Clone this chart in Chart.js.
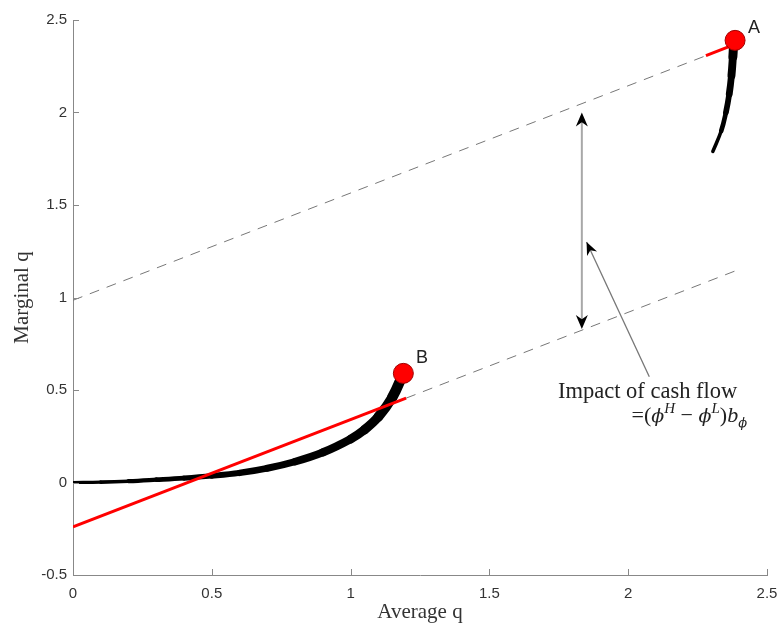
<!DOCTYPE html>
<html>
<head>
<meta charset="utf-8">
<title>Marginal q and Average q</title>
<script src="https://cdn.jsdelivr.net/npm/chart.js@4.4.0/dist/chart.umd.min.js"></script>
<style>
  body { margin: 0; background: #fff; }
</style>
</head>
<body>

<canvas id="mychart" width="778" height="623"></canvas>

<script>
// curve ending at B (low cash flow)
const lowCurveX = [0, 0.1, 0.2, 0.3, 0.4, 0.5, 0.6, 0.7, 0.8, 0.9, 1.0, 1.05, 1.1, 1.15, 1.19];
const lowCurveY = [0, 0.002, 0.007, 0.015, 0.024, 0.036, 0.052, 0.077, 0.113, 0.163, 0.235, 0.285, 0.355, 0.46, 0.59];

// curve ending at A (high cash flow)
const highCurveX = [2.305, 2.335, 2.352, 2.364, 2.372, 2.377, 2.38];
const highCurveY = [1.79, 1.9, 2.0, 2.1, 2.2, 2.3, 2.38];

// straight lines
const lowRedX = [0, 1.2];
const lowRedY = [-0.24, 0.456];
const lowDashX = [1.2, 2.4];
const lowDashY = [0.456, 1.152];
const highDashX = [0, 2.28];
const highDashY = [0.985, 2.307];
const highRedX = [2.28, 2.37];
const highRedY = [2.307, 2.36];

// end points
const pointNames = ['A', 'B'];
const pointX = [2.385, 1.19];
const pointY = [2.39, 0.59];

// arrows
const gapArrowX = [1.833, 1.833];
const gapArrowY = [0.83, 2.0];
const noteArrowX = [2.076, 1.85];
const noteArrowY = [0.572, 1.30];

const xTicks = [0, 0.5, 1, 1.5, 2, 2.5];
const yTicks = [-0.5, 0, 0.5, 1, 1.5, 2, 2.5];

function pts(xs, ys) {
  return xs.map((x, i) => ({ x: x, y: ys[i] }));
}

// line gets thicker along the curve
function taper(minW, maxW, n) {
  return ctx => minW + (maxW - minW) * ctx.p1DataIndex / (n - 1);
}

function arrowHead(ctx, x0, y0, x1, y1, len, half) {
  const a = Math.atan2(y1 - y0, x1 - x0);
  ctx.save();
  ctx.translate(x1, y1);
  ctx.rotate(a);
  ctx.beginPath();
  ctx.moveTo(0, 0);
  ctx.lineTo(-len, -half);
  ctx.lineTo(-len * 0.7, 0);
  ctx.lineTo(-len, half);
  ctx.closePath();
  ctx.fillStyle = '#000';
  ctx.fill();
  ctx.restore();
}

const extras = {
  id: 'extras',
  afterDraw(chart) {
    const ctx = chart.ctx;
    const xs = chart.scales.x, ys = chart.scales.y;
    const px = v => xs.getPixelForValue(v);
    const py = v => ys.getPixelForValue(v);
    ctx.save();

    // inward tick marks
    ctx.strokeStyle = '#888';
    ctx.lineWidth = 1;
    const bottom = chart.chartArea.bottom, left = chart.chartArea.left;
    xTicks.forEach(t => {
      const x = Math.round(px(t)) + 0.5;
      ctx.beginPath(); ctx.moveTo(x, bottom); ctx.lineTo(x, bottom - 6); ctx.stroke();
    });
    yTicks.forEach(t => {
      const y = Math.round(py(t)) + 0.5;
      ctx.beginPath(); ctx.moveTo(left, y); ctx.lineTo(left + 6, y); ctx.stroke();
    });

    // double arrow
    const gx = px(gapArrowX[0]);
    const gy0 = py(gapArrowY[0]), gy1 = py(gapArrowY[1]);
    ctx.strokeStyle = '#a8a8a8';
    ctx.lineWidth = 2;
    ctx.beginPath(); ctx.moveTo(gx, gy0 - 6); ctx.lineTo(gx, gy1 + 6); ctx.stroke();
    arrowHead(ctx, gx, gy0, gx, gy1, 14, 6);
    arrowHead(ctx, gx, gy1, gx, gy0, 14, 6);

    // note arrow
    const nx0 = px(noteArrowX[0]), ny0 = py(noteArrowY[0]);
    const nx1 = px(noteArrowX[1]), ny1 = py(noteArrowY[1]);
    ctx.strokeStyle = '#777';
    ctx.lineWidth = 1.3;
    ctx.beginPath(); ctx.moveTo(nx0, ny0); ctx.lineTo(nx1, ny1); ctx.stroke();
    arrowHead(ctx, nx0, ny0, nx1, ny1, 13, 5.5);

    // point labels
    ctx.fillStyle = '#222';
    ctx.font = '18px "Liberation Sans", Arial, sans-serif';
    ctx.textAlign = 'center';
    ctx.textBaseline = 'middle';
    ctx.fillText(pointNames[0], px(2.453), py(2.457));
    ctx.fillText(pointNames[1], px(1.257), py(0.673));

    // note text
    ctx.textAlign = 'left';
    ctx.textBaseline = 'alphabetic';
    ctx.font = '22.5px "Liberation Serif", "Times New Roman", serif';
    ctx.fillText('Impact of cash flow', px(1.747), py(0.457));

    const big = '22px "Liberation Serif", serif';
    const bigI = 'italic 19px "DejaVu Serif", "Liberation Serif", serif';
    const bigL = 'italic 22px "Liberation Serif", serif';
    const smallI = 'italic 15px "Liberation Serif", serif';
    const smallP = 'italic 13px "DejaVu Serif", "Liberation Serif", serif';
    const parts = [
      { t: '=(', f: big, dy: 0 },
      { t: 'ϕ', f: bigI, dy: 0 },
      { t: 'H', f: smallI, dy: -9 },
      { t: ' − ', f: big, dy: 0 },
      { t: 'ϕ', f: bigI, dy: 0 },
      { t: 'L', f: smallI, dy: -9 },
      { t: ')', f: big, dy: 0 },
      { t: 'b', f: bigL, dy: 0 },
      { t: 'ϕ', f: smallP, dy: 5 }
    ];
    let total = 0;
    parts.forEach(p => { ctx.font = p.f; p.w = ctx.measureText(p.t).width; total += p.w; });
    let cx = px(2.428) - total;
    const base = py(0.327);
    parts.forEach(p => {
      ctx.font = p.f;
      ctx.fillText(p.t, cx, base + p.dy);
      cx += p.w;
    });

    ctx.restore();
  }
};

const ctx = document.getElementById('mychart').getContext('2d');
const myChart = new Chart(ctx, {
  type: 'scatter',
  data: {
    datasets: [
      {
        label: 'A B points',
        data: pts(pointX, pointY),
        showLine: false,
        pointRadius: 10,
        backgroundColor: '#ff0000',
        borderColor: '#a00000',
        borderWidth: 1,
        order: 0
      },
      {
        label: 'lower red',
        data: pts(lowRedX, lowRedY),
        showLine: true,
        borderColor: '#ff0000',
        borderWidth: 3,
        pointRadius: 0,
        order: 1
      },
      {
        label: 'upper red',
        data: pts(highRedX, highRedY),
        showLine: true,
        borderColor: '#ff0000',
        borderWidth: 3,
        pointRadius: 0,
        order: 1
      },
      {
        label: 'low curve',
        data: pts(lowCurveX, lowCurveY),
        showLine: true,
        borderColor: '#000',
        borderWidth: 4,
        borderCapStyle: 'round',
        borderJoinStyle: 'round',
        tension: 0.4,
        segment: { borderWidth: taper(2.5, 10.5, lowCurveX.length) },
        pointRadius: 0,
        order: 2
      },
      {
        label: 'high curve',
        data: pts(highCurveX, highCurveY),
        showLine: true,
        borderColor: '#000',
        borderWidth: 4,
        borderCapStyle: 'round',
        borderJoinStyle: 'round',
        tension: 0.4,
        segment: { borderWidth: taper(2.5, 9, highCurveX.length) },
        pointRadius: 0,
        order: 2
      },
      {
        label: 'lower dashed',
        data: pts(lowDashX, lowDashY),
        showLine: true,
        borderColor: '#777',
        borderWidth: 1,
        borderDash: [10, 8],
        pointRadius: 0,
        order: 3
      },
      {
        label: 'upper dashed',
        data: pts(highDashX, highDashY),
        showLine: true,
        borderColor: '#777',
        borderWidth: 1,
        borderDash: [10, 8],
        pointRadius: 0,
        order: 3
      }
    ]
  },
  options: {
    responsive: false,
    animation: false,
    layout: { padding: { top: 20, right: 11, left: 0, bottom: 0 } },
    plugins: {
      legend: { display: false },
      tooltip: { enabled: false }
    },
    scales: {
      x: {
        type: 'linear',
        min: 0,
        max: 2.5,
        afterFit: s => { s.height = 48; s.paddingLeft = 0; s.paddingRight = 0; },
        afterBuildTicks: s => { s.ticks = xTicks.map(v => ({ value: v })); },
        grid: { display: false, drawTicks: false },
        border: { display: true, color: '#888', width: 1 },
        ticks: {
          padding: 10,
          color: '#333',
          font: { family: '"Liberation Sans", Arial, sans-serif', size: 15 },
          maxRotation: 0,
          callback: v => String(v)
        },
        title: {
          display: true,
          text: 'Average q',
          color: '#333',
          font: { family: '"Liberation Serif", "Times New Roman", serif', size: 21 },
          padding: { top: 0, bottom: -2 }
        }
      },
      y: {
        type: 'linear',
        min: -0.5,
        max: 2.5,
        afterFit: s => { s.width = 73; s.paddingTop = 0; s.paddingBottom = 0; },
        afterBuildTicks: s => { s.ticks = yTicks.map(v => ({ value: v })); },
        grid: { display: false, drawTicks: false },
        border: { display: true, color: '#888', width: 1 },
        ticks: {
          padding: 6,
          color: '#333',
          font: { family: '"Liberation Sans", Arial, sans-serif', size: 15 },
          callback: v => String(v)
        },
        title: {
          display: true,
          text: 'Marginal q',
          color: '#333',
          font: { family: '"Liberation Serif", "Times New Roman", serif', size: 21 },
          padding: { top: 10, bottom: 0 }
        }
      }
    }
  },
  plugins: [extras]
});
</script>

</body>
</html>
